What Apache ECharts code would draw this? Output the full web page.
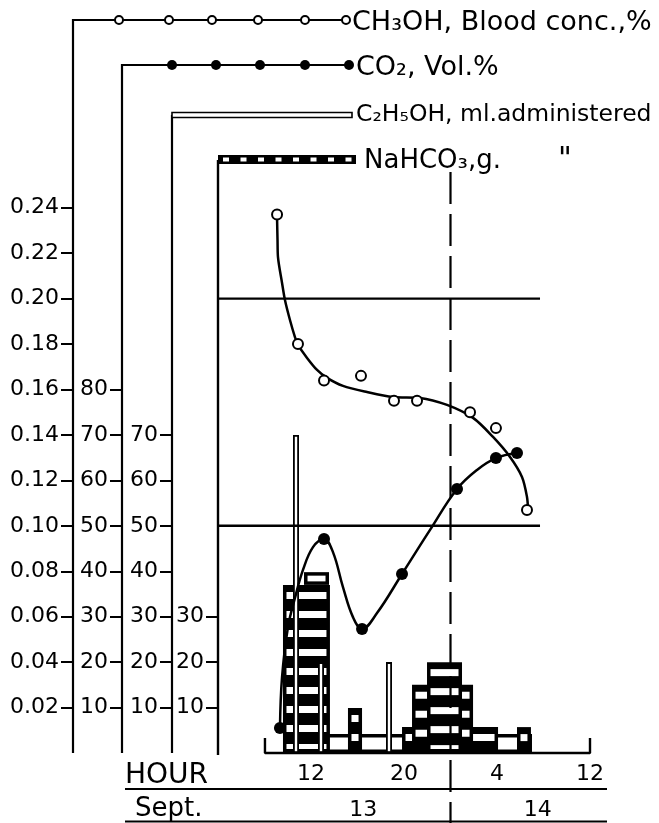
<!DOCTYPE html>
<html><head><meta charset="utf-8">
<script src="https://cdn.jsdelivr.net/npm/echarts@6/dist/echarts.min.js"></script>
<style>html,body{margin:0;padding:0;background:#fff}#c{width:659px;height:823px}</style>
</head><body><div id="c"></div>
<script>
// ---------- data (hours counted from midnight, Sept. 13) ----------
const ch3ohHours  = [9.08, 10.88, 13.12, 16.30, 19.14, 21.12, 25.68, 27.91, 30.58];
const ch3ohValues = [0.237, 0.180, 0.164, 0.166, 0.155, 0.155, 0.150, 0.143, 0.107];
const ch3ohCurveHours  = [9.08, 9.12, 9.16, 9.51, 9.76, 10.19, 10.62, 10.88, 11.66, 12.52, 13.38, 14.75, 16.82, 19.05, 21.38, 23.70, 25.94, 27.66, 29.12, 30.15, 30.58, 30.67];
const ch3ohCurveValues = [0.2355, 0.2258, 0.2183, 0.2069, 0.1994, 0.1906, 0.1831, 0.1796, 0.1739, 0.1686, 0.1651, 0.1616, 0.1589, 0.1567, 0.1563, 0.1532, 0.1475, 0.1391, 0.1303, 0.1215, 0.1127, 0.107];

const co2Hours  = [9.33, 13.12, 16.39, 19.83, 24.56, 27.91, 29.72];
const co2Values = [5.5, 47.1, 27.3, 39.4, 58.1, 64.9, 66.0];
const co2CurveHours  = [9.33, 9.51, 10.02, 10.62, 11.31, 12.17, 13.12, 13.89, 14.75, 15.61, 16.39, 17.68, 19.83, 22.24, 24.56, 26.28, 27.91, 29.72];
const co2CurveValues = [5.5, 16.7, 27.7, 34.1, 40.3, 45.3, 47.1, 44.2, 36.5, 29.9, 27.3, 30.8, 39.4, 49.1, 58.1, 62.3, 64.9, 66.0];

const c2h5ohHours = [10.71, 12.86, 18.71];
const c2h5ohMl    = [70, 20, 20];

const nahco3Start = [9.68, 9.59, 11.40, 15.18, 19.83, 20.69, 21.98, 29.72];
const nahco3End   = [31.01, 13.63, 13.55, 16.39, 28.09, 25.94, 24.99, 30.92];
const nahco3Base  = [0, 0, 37.0, 0, 0, 0, 0, 0];
const nahco3Top   = [4.2, 37.0, 39.8, 9.9, 5.7, 15.0, 20.0, 5.7];

const ch3ohTicks  = [0.02, 0.04, 0.06, 0.08, 0.10, 0.12, 0.14, 0.16, 0.18, 0.20, 0.22, 0.24];
const co2Ticks    = [10, 20, 30, 40, 50, 60, 70, 80];
const c2h5ohTicks = [10, 20, 30, 40, 50, 60, 70];
const nahco3Ticks = [10, 20, 30];
const hourTicks   = [12, 20, 28];
const hourLabels  = [12, 20, 28, 36];
const refLevels   = [0.20, 0.10];
const refStart = 4, refEnd = 31.7;
const timeStart = 8.04, timeEnd = 36, midnight = 24;
const dayLabels = ['13', '14'];
const dayLabelHours = [16.5, 31.5];

// ---------- chart ----------
const FONT = 'DejaVu Sans';
const chart = echarts.init(document.getElementById('c'), null, {renderer: 'canvas'});

function yAx(max, offset, ticks, fmt) {
  return {
    type: 'value', min: 0, max: max, position: 'left', offset: offset,
    axisLine: {show: false}, splitLine: {show: false},
    axisTick: {show: true, customValues: ticks, length: 12, lineStyle: {color: '#000', width: 2}},
    axisLabel: {customValues: ticks, margin: 14, formatter: fmt, color: '#000', fontSize: 22, fontFamily: FONT}
  };
}

function renderBlock(params, api) {
  const a = api.coord([api.value(0), api.value(3)]);
  const b = api.coord([api.value(1), api.value(2)]);
  const x = a[0], y = a[1], w = b[0] - a[0], h = b[1] - a[1];
  const children = [{type: 'rect', shape: {x: x, y: y, width: w, height: h}, style: {fill: '#000'}}];
  const inset = 3.5;
  if (h < 20) {
    children.push({type: 'rect', shape: {x: x + inset, y: y + 3.5, width: w - 2 * inset, height: Math.max(1, h - 7)}, style: {fill: '#fff'}});
  } else {
    for (let s = y + 7; s < y + h - 6; s += 19) {
      const e = Math.min(s + 7, y + h - 4);
      children.push({type: 'rect', shape: {x: x + inset, y: s, width: w - 2 * inset, height: e - s}, style: {fill: '#fff'}});
    }
  }
  return {type: 'group', children: children};
}

const zip = (xs, ys) => xs.map((v, i) => [v, ys[i]]);

const option = {
  animation: false,
  backgroundColor: '#fff',
  grid: {left: 218, right: 69, top: 26, bottom: 70, containLabel: false},
  xAxis: {
    type: 'value', min: 4, max: 36, position: 'bottom',
    axisLine: {show: false}, splitLine: {show: false},
    axisTick: {show: true, inside: true, customValues: hourTicks, length: 7, lineStyle: {color: '#000', width: 2}},
    axisLabel: {customValues: hourLabels, margin: 10, formatter: v => String(Math.round(v) % 24), color: '#000', fontSize: 22, fontFamily: FONT}
  },
  yAxis: [
    yAx(0.32, 145, ch3ohTicks, v => v.toFixed(2)),
    yAx(160, 96, co2Ticks, v => String(Math.round(v))),
    yAx(160, 46, c2h5ohTicks, v => String(Math.round(v))),
    yAx(160, 0, nahco3Ticks, v => String(Math.round(v)))
  ],
  series: [
    {
      type: 'custom', name: 'NaHCO3', yAxisIndex: 3, z: 1, clip: false,
      renderItem: renderBlock,
      encode: {x: [0, 1], y: [2, 3]},
      data: nahco3Start.map((s, i) => [s, nahco3End[i], nahco3Base[i], nahco3Top[i]])
    },
    {
      type: 'bar', name: 'C2H5OH', yAxisIndex: 2, z: 2, barWidth: 6,
      itemStyle: {color: '#fff', borderColor: '#000', borderWidth: 1.8},
      data: zip(c2h5ohHours, c2h5ohMl)
    },
    ...refLevels.map(l => ({
      type: 'line', yAxisIndex: 0, z: 3, symbol: 'none', clip: false,
      lineStyle: {color: '#000', width: 2.4},
      data: [[refStart, l], [refEnd, l]]
    })),
    {
      type: 'line', yAxisIndex: 3, z: 3, symbol: 'none', clip: false,
      lineStyle: {color: '#000', width: 2.4},
      data: [[timeStart, 3.3], [timeStart, 0], [timeEnd, 0], [timeEnd, 3.3]]
    },
    {
      type: 'line', name: 'CH3OH curve', yAxisIndex: 0, z: 4, smooth: 0.3, symbol: 'none', clip: false,
      lineStyle: {color: '#000', width: 2.5},
      data: zip(ch3ohCurveHours, ch3ohCurveValues)
    },
    {
      type: 'line', name: 'CO2 curve', yAxisIndex: 1, z: 4, smooth: 0.4, symbol: 'none', clip: false,
      lineStyle: {color: '#000', width: 2.5},
      data: zip(co2CurveHours, co2CurveValues)
    },
    {
      type: 'scatter', name: 'CH3OH', yAxisIndex: 0, z: 5, symbol: 'circle', symbolSize: 10,
      itemStyle: {color: '#fff', borderColor: '#000', borderWidth: 2, opacity: 1},
      data: zip(ch3ohHours, ch3ohValues)
    },
    {
      type: 'scatter', name: 'CO2', yAxisIndex: 1, z: 5, symbol: 'circle', symbolSize: 12,
      itemStyle: {color: '#000', opacity: 1},
      data: zip(co2Hours, co2Values)
    }
  ]
};
chart.setOption(option);

// ---------- decorations: legend brackets, labels, midnight line ----------
const y0 = chart.convertToPixel({yAxisIndex: 0}, 0);
const xMid = chart.convertToPixel({xAxisIndex: 0}, midnight);
const g = [];
const txt = (x, y, t, size, align) => ({type: 'text', x: x, y: y, z: 100,
  style: {text: t, font: size + 'px "' + FONT + '"', fill: '#000', verticalAlign: 'middle', align: align || 'left'}});
const pl = (pts, w) => ({type: 'polyline', z: 100, shape: {points: pts}, style: {stroke: '#000', lineWidth: w || 2.2, fill: null}});

// CH3OH bracket
g.push(pl([[73, y0], [73, 20], [346, 20]]));
[119, 169, 212, 258, 305, 346].forEach(cx => g.push({type: 'circle', z: 101, shape: {cx: cx, cy: 20, r: 4}, style: {fill: '#fff', stroke: '#000', lineWidth: 2}}));
g.push(txt(352, 23, 'CH₃OH, Blood conc.,%', 27));
// CO2 bracket
g.push(pl([[122, y0], [122, 65], [349, 65]]));
[172, 216, 260, 305, 349].forEach(cx => g.push({type: 'circle', z: 101, shape: {cx: cx, cy: 65, r: 5}, style: {fill: '#000'}}));
g.push(txt(356, 68, 'CO₂, Vol.%', 27));
// C2H5OH bracket
g.push(pl([[172, y0], [172, 115]]));
g.push({type: 'rect', z: 100, shape: {x: 172, y: 112.5, width: 180, height: 5}, style: {fill: '#fff', stroke: '#000', lineWidth: 1.6}});
g.push(txt(356, 115, 'C₂H₅OH, ml.administered', 23.5));
// NaHCO3 bracket
g.push(pl([[218, y0 + 2], [218, 160]], 2.4));
g.push({type: 'rect', z: 100, shape: {x: 218, y: 155, width: 138, height: 9}, style: {fill: '#000'}});
for (let k = 0; k < 8; k++) g.push({type: 'rect', z: 101, shape: {x: 223 + k * 17.5, y: 157.5, width: 6, height: 4}, style: {fill: '#fff'}});
g.push(txt(364, 161, 'NaHCO₃,g.', 26));
g.push(txt(558, 160, '"', 30));
// midnight dashed line
g.push({type: 'line', z: 100, shape: {x1: xMid, y1: 172, x2: xMid, y2: 823}, style: {stroke: '#000', lineWidth: 2.2, lineDash: [32, 10]}});
// bottom labels
g.push(txt(125, 776, 'HOUR', 28));
g.push({type: 'line', z: 100, shape: {x1: 125, y1: 789, x2: 607, y2: 789}, style: {stroke: '#000', lineWidth: 2}});
g.push(txt(135, 809, 'Sept.', 26));
g.push({type: 'line', z: 100, shape: {x1: 125, y1: 821.5, x2: 607, y2: 821.5}, style: {stroke: '#000', lineWidth: 2}});
dayLabels.forEach((d, i) => {
  const px = chart.convertToPixel({xAxisIndex: 0}, dayLabelHours[i]);
  g.push(txt(px, 810, d, 22, 'center'));
});
chart.setOption({graphic: {elements: g}});
</script></body></html>
